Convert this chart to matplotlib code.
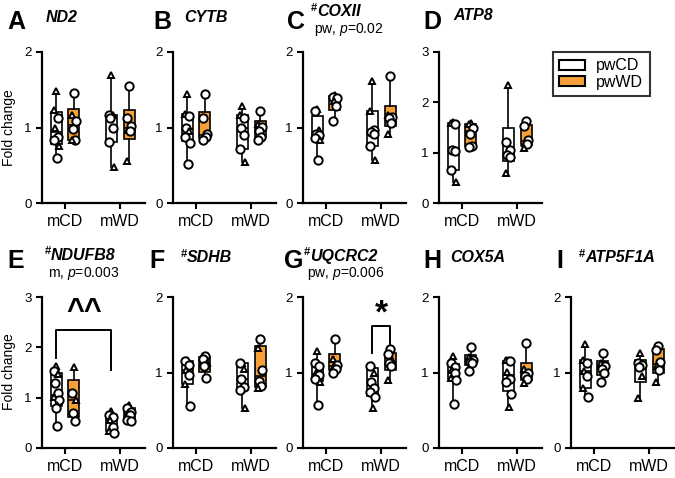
import numpy as np
import matplotlib
matplotlib.use("Agg")
import matplotlib.pyplot as plt
from matplotlib.patches import Patch

plt.rcParams["font.family"] = "Liberation Sans"
plt.rcParams["mathtext.fontset"] = "custom"
plt.rcParams["mathtext.rm"] = "Liberation Sans"
plt.rcParams["mathtext.it"] = "Liberation Sans:italic"

# group order in every list: mCD/pwCD, mCD/pwWD, mWD/pwCD, mWD/pwWD
maternal    = ["mCD", "mWD"]
postweaning = ["pwCD", "pwWD"]
genes   = ["ND2", "CYTB", "COXII", "ATP8", "NDUFB8", "SDHB", "UQCRC2", "COX5A", "ATP5F1A"]
letters = ["A", "B", "C", "D", "E", "F", "G", "H", "I"]
hashed  = [False, False, True, False, True, True, True, False, True]
notes   = ["", "", "pw, $\\it{p}$=0.02", "", "m, $\\it{p}$=0.003", "", "pw, $\\it{p}$=0.006", "", ""]
y_top   = [2, 2, 2, 3, 3, 2, 2, 2, 2]

nd2_circle   = [[1.12, 0.88, 0.83, 0.60], [1.46, 1.08, 0.98, 0.84], [1.17, 1.12, 1.00, 0.81], [1.55, 1.12, 1.02, 0.95]]
nd2_triangle = [[1.48, 1.23, 0.99, 0.76], [1.17, 0.84], [1.69, 1.16, 0.48], [0.97, 0.56]]

cytb_circle   = [[1.15, 1.00, 0.87, 0.80, 0.52], [1.45, 1.12, 0.92, 0.87, 0.84], [1.12, 0.99, 0.90, 0.72], [1.22, 1.01, 0.95, 0.88, 0.84]]
cytb_triangle = [[1.45, 1.18, 0.95], [0.88], [1.28, 1.17, 0.54], [1.05]]

coxii_circle   = [[1.22, 0.92, 0.90, 0.86, 0.57], [1.41, 1.39, 1.28, 1.09], [0.97, 0.94, 0.92, 0.75], [1.68, 1.14, 1.12, 1.06]]
coxii_triangle = [[1.25, 0.97, 0.84], [1.43, 1.35], [1.62, 1.22, 0.57], [1.16, 0.91]]

atp8_circle   = [[1.56, 1.05, 1.03, 0.65], [1.50, 1.37, 1.13, 1.12], [1.22, 1.05, 0.95, 0.92], [1.63, 1.52, 1.25, 1.17]]
atp8_triangle = [[1.60, 1.58, 0.42], [1.59, 1.57], [2.34, 0.60], [1.20, 1.09]]

ndufb8_circle   = [[1.52, 1.29, 1.09, 0.96, 0.79, 0.44], [1.09, 0.69, 0.54], [0.66, 0.62, 0.42, 0.30], [0.80, 0.72, 0.66, 0.55, 0.53]]
ndufb8_triangle = [[1.63, 1.48, 1.02, 0.85], [1.60, 0.96], [0.74, 0.55, 0.33], [0.86, 0.69]]

sdhb_circle   = [[1.15, 1.10, 0.97, 0.55], [1.22, 1.18, 1.08, 0.93], [1.12, 0.92, 0.81, 0.77], [1.44, 1.03, 0.89, 0.82]]
sdhb_triangle = [[1.17, 1.03, 0.85], [1.12], [1.13, 1.05, 0.53], [1.33, 0.79]]

uqcrc2_circle   = [[1.13, 1.08, 0.97, 0.92, 0.57], [1.45, 1.10, 1.04, 1.00], [1.08, 0.88, 0.80, 0.74, 0.68], [1.31, 1.24, 1.12, 1.08]]
uqcrc2_triangle = [[1.28, 0.99, 0.87], [1.18, 1.08], [1.10, 1.00, 0.53], [1.16, 0.90]]

cox5a_circle   = [[1.12, 1.07, 1.00, 0.90, 0.58], [1.34, 1.16, 1.14, 1.12, 1.02], [1.15, 0.92, 0.87, 0.72], [1.39, 1.00, 0.96, 0.92]]
cox5a_triangle = [[1.22, 1.03, 0.93], [1.20], [1.17, 1.16, 1.01, 0.54], [1.04, 0.86]]

atp5f1a_circle   = [[1.12, 0.96, 0.68], [1.26, 1.08, 1.04, 1.00, 0.88], [1.13, 1.10, 1.07], [1.35, 1.30, 1.14, 1.03]]
atp5f1a_triangle = [[1.38, 1.17, 1.02, 0.80], [1.12], [1.26, 0.95, 0.66], [1.08, 0.88]]

circles   = [nd2_circle, cytb_circle, coxii_circle, atp8_circle, ndufb8_circle,
             sdhb_circle, uqcrc2_circle, cox5a_circle, atp5f1a_circle]
triangles = [nd2_triangle, cytb_triangle, coxii_triangle, atp8_triangle, ndufb8_triangle,
             sdhb_triangle, uqcrc2_triangle, cox5a_triangle, atp5f1a_triangle]

ORANGE = "#F6A03A"
W, H = 675, 478

def px(x, y):
    return x / W, 1 - y / H

fig = plt.figure(figsize=(6.75, 4.78), dpi=100)

col_left = [42, 173, 303, 439, 571]
ax_w = 103
rows = [(52, 203), (297, 448)]
panel_pos = [(0, 0), (0, 1), (0, 2), (0, 3), (1, 0), (1, 1), (1, 2), (1, 3), (1, 4)]

offsets = [-0.16, 0.16]
jitter = [0.0, -0.035, 0.035, -0.02, 0.025, -0.04, 0.04, 0.01, -0.01, 0.02]

axes = []
for k, gene in enumerate(genes):
    r, c = panel_pos[k]
    top, bot = rows[r]
    x0, y0 = px(col_left[c], bot)
    ax = fig.add_axes([x0, y0, ax_w / W, (bot - top) / H])
    axes.append(ax)

    for g in range(4):
        xpos = (g // 2) + offsets[g % 2]
        vals = np.array(circles[k][g] + triangles[k][g])
        q1, med, q3 = np.percentile(vals, [25, 50, 75], method="weibull")
        st = {"med": med, "q1": q1, "q3": q3, "whislo": vals.min(), "whishi": vals.max(), "fliers": []}
        face = "white" if g % 2 == 0 else ORANGE
        ax.bxp([st], positions=[xpos], widths=0.2, patch_artist=True, showcaps=False,
               boxprops=dict(facecolor=face, edgecolor="black", linewidth=1.2),
               medianprops=dict(color="black", linewidth=1.2),
               whiskerprops=dict(color="black", linewidth=1.2), manage_ticks=False)

        order = np.argsort(-vals)
        n_c = len(circles[k][g])
        for rank, idx in enumerate(order):
            marker = "o" if idx < n_c else "^"
            ms = 6 if marker == "o" else 5
            ax.plot(xpos + jitter[rank % len(jitter)], vals[idx], marker=marker, ms=ms,
                    mfc="white", mec="black", mew=1.4, zorder=5, clip_on=False)

    ax.set_xlim(-0.42, 1.45)
    ax.set_ylim(0, y_top[k])
    ax.set_yticks(range(y_top[k] + 1))
    ax.set_xticks([0, 1])
    ax.set_xticklabels(maternal, fontsize=11.5)
    ax.tick_params(axis="y", labelsize=9.5, length=4, width=1.5)
    ax.tick_params(axis="x", length=4, width=1.5, pad=4)
    for s in ["top", "right"]:
        ax.spines[s].set_visible(False)
    for s in ["left", "bottom"]:
        ax.spines[s].set_linewidth(1.6)

# significance marks
axE = axes[4]
axE.plot([-0.16, -0.16, 0.84, 0.84], [1.78, 2.34, 2.34, 1.55], color="black", lw=1.4)
axE.text(0.34, 2.40, "^^", ha="center", va="bottom", fontsize=22, fontweight="bold")
axG = axes[6]
axG.plot([0.84, 0.84, 1.16, 1.16], [1.26, 1.61, 1.61, 1.34], color="black", lw=1.4)
axG.text(1.0, 1.57, "*", ha="center", va="bottom", fontsize=24, fontweight="bold")

# panel letters
letter_xy = [(16, 22), (162, 22), (296, 22), (432, 22),
             (16, 261), (157, 261), (294, 261), (432, 261), (560, 261)]
for k in range(9):
    fig.text(*px(*letter_xy[k]), letters[k], fontsize=18, fontweight="bold", ha="center", va="center")

# gene titles
title_xy = [(46, 17), (184, 17), (317, 12), (453, 16),
            (51, 255), (187, 258), (310, 256), (450, 258), (585, 258)]
for k in range(9):
    tx, ty = title_xy[k]
    fig.text(*px(tx, ty), genes[k], fontsize=11.5, fontweight="bold", fontstyle="italic",
             ha="left", va="center")
    if hashed[k]:
        fig.text(*px(tx, ty - 4), "#", fontsize=8, fontweight="bold", ha="right", va="center")
    if notes[k]:
        fig.text(*px(tx - 3, ty + 18), notes[k], fontsize=10, ha="left", va="center")

for yc in [128, 372]:
    fig.text(*px(9, yc), "Fold change", fontsize=10, rotation=90, ha="center", va="center")

handles = [Patch(facecolor="white", edgecolor="black", linewidth=1.5, label=postweaning[0]),
           Patch(facecolor=ORANGE, edgecolor="black", linewidth=1.5, label=postweaning[1])]
leg = fig.legend(handles=handles, loc="upper left", bbox_to_anchor=px(553, 52),
                 borderaxespad=0, fontsize=11.5, fancybox=False, frameon=True,
                 handlelength=1.6, handleheight=0.6, handletextpad=0.7,
                 labelspacing=0.1, borderpad=0.4)
leg.get_frame().set_edgecolor("black")
leg.get_frame().set_linewidth(1.5)

fig.savefig("out.png", dpi=100)
